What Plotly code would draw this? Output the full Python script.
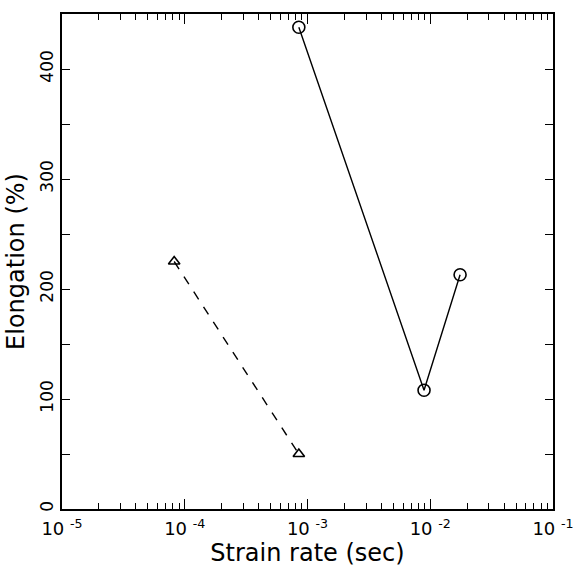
import plotly.graph_objects as go

# Data
circle_rate = [8.5e-4, 8.9e-3, 1.75e-2]
circle_elong = [438, 108, 213]
triangle_rate = [8.2e-5, 8.5e-4]
triangle_elong = [225, 50]

x_tickvals = [1e-5, 1e-4, 1e-3, 1e-2, 1e-1]
x_ticktext = ["10 <sup>-5</sup>", "10 <sup>-4</sup>", "10 <sup>-3</sup>", "10 <sup>-2</sup>", "10 <sup>-1</sup>"]
y_tickvals = [0, 100, 200, 300, 400]

FONT = "DejaVu Sans"

fig = go.Figure()
fig.add_trace(go.Scatter(
    x=circle_rate, y=circle_elong, mode="lines+markers",
    line=dict(color="black", width=1.4),
    marker=dict(symbol="circle-open", size=12, color="black", line=dict(width=1.6)),
    showlegend=False,
))
fig.add_trace(go.Scatter(
    x=triangle_rate, y=triangle_elong, mode="lines+markers",
    line=dict(color="black", width=1.4, dash="dash"),
    marker=dict(symbol="triangle-up-open", size=10, color="black", line=dict(width=1.6)),
    showlegend=False,
))

fig.update_layout(
    width=586, height=570,
    margin=dict(l=62, r=24, t=12, b=53),
    paper_bgcolor="white", plot_bgcolor="white",
    font=dict(family=FONT, color="black"),
)
fig.update_xaxes(
    type="log", range=[-5, -1],
    tickvals=x_tickvals, ticktext=x_ticktext,
    ticks="inside", ticklen=10, tickwidth=1.3, tickcolor="black",
    minor=dict(ticks="inside", ticklen=6, tickwidth=1.1, tickcolor="black", dtick="D1"),
    showline=True, linecolor="black", linewidth=1.6, mirror="allticks",
    showgrid=False, zeroline=False,
    ticklabelstandoff=3,
    tickfont=dict(size=18, family=FONT),
    title=dict(text="Strain rate (sec)", font=dict(size=24, family=FONT), standoff=2),
)
fig.update_yaxes(
    range=[0, 450],
    tickvals=y_tickvals, tickangle=-90,
    ticks="inside", ticklen=8, tickwidth=1.3, tickcolor="black",
    minor=dict(ticks="inside", ticklen=8, tickwidth=1.1, tickcolor="black", dtick=50),
    showline=True, linecolor="black", linewidth=1.6, mirror="allticks",
    showgrid=False, zeroline=False,
    tickfont=dict(size=17, family=FONT),
    title=dict(text="Elongation (%)", font=dict(size=24, family=FONT), standoff=6),
)

fig.write_html("out.html")
